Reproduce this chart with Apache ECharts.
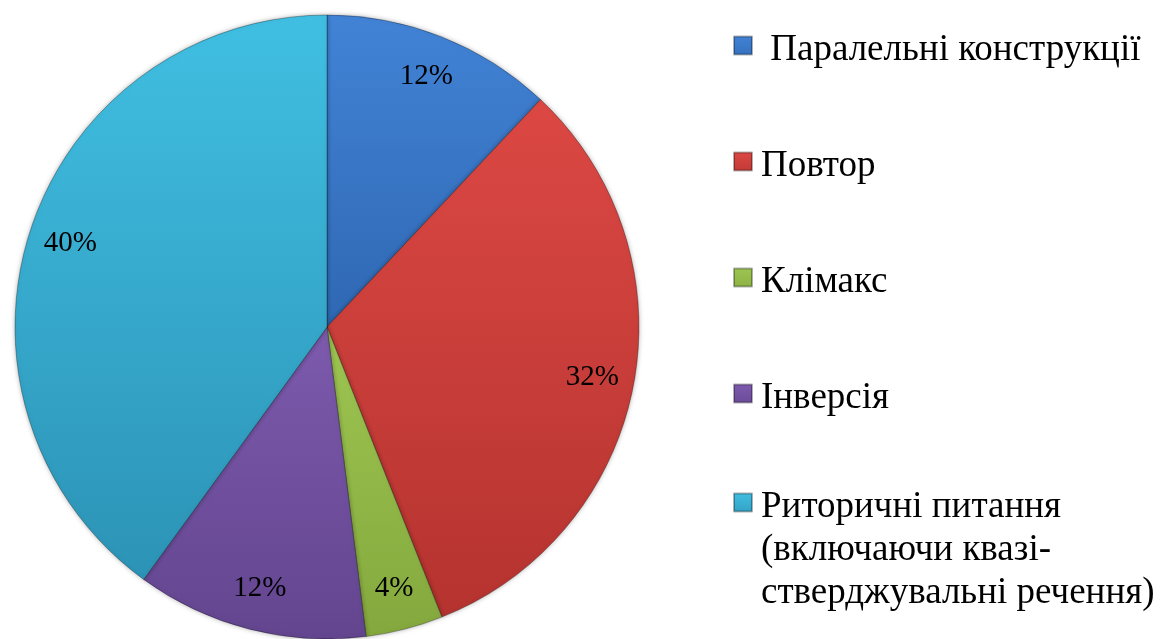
<!DOCTYPE html>
<html lang="uk">

<head>
    <meta charset="UTF-8">
    <title>Pie</title>
    <script src="https://cdn.jsdelivr.net/npm/echarts@6/dist/echarts.min.js"></script>
    <style>
        html, body { margin: 0; padding: 0; background: #fff; }
    </style>
</head>

<body>
    <div id="main" style="width: 1160px;height:639px;"></div>
    <script type="text/javascript">
        // дані діаграми
        var categories = [' Паралельні конструкції', 'Повтор', 'Клімакс', 'Інверсія',
            'Риторичні питання\n(включаючи квазі-\nстверджувальні речення)'];
        var values = [12, 32, 4, 12, 40];
        var topColors = ['#4283d6', '#dc4844', '#9ec652', '#7d5aad', '#40bfe2'];
        var bottomColors = ['#2f68b3', '#b5332f', '#84a83d', '#63458f', '#2c93b6'];

        var serif = '"Liberation Serif", "Times New Roman", serif';
        // квадратик зверху, порожнє місце знизу - щоб текст був трохи нижче значка
        var legendIcon = 'path://M0,0h18v18h-18z M0,28h0';

        function grad(i) {
            return {
                type: 'linear', x: 0, y: 0, x2: 0, y2: 1,
                colorStops: [{ offset: 0, color: topColors[i] }, { offset: 1, color: bottomColors[i] }]
            };
        }

        var pieData = categories.map(function (name, i) {
            return { name: name, value: values[i], itemStyle: { color: grad(i) } };
        });
        var labelData = categories.map(function (name, i) {
            return { name: name, value: values[i] };
        });

        var myChart = echarts.init(document.getElementById('main'));
        myChart.setOption({
            animation: false,
            legend: [{
                orient: 'vertical',
                left: 728,
                top: 27,
                itemWidth: 18,
                itemHeight: 28,
                itemGap: 79,
                icon: legendIcon,
                selectedMode: false,
                data: categories.slice(0, 4),
                textStyle: { fontFamily: serif, fontSize: 37, color: '#000', lineHeight: 36, padding: [0, 0, 0, 4] }
            }, {
                // останній пункт: перший рядок на рівні значка
                orient: 'vertical',
                left: 728,
                top: 395,
                itemWidth: 18,
                itemHeight: 28,
                icon: legendIcon,
                selectedMode: false,
                data: categories.slice(4),
                formatter: function (name) { return '\n\n' + name; },
                textStyle: { fontFamily: serif, fontSize: 37, color: '#000', lineHeight: 43, padding: [0, 0, 0, 4] }
            }],
            series: [{
                type: 'pie',
                center: [327, 327],
                radius: 312,
                startAngle: 90,
                silent: true,
                label: { show: false },
                labelLine: { show: false },
                itemStyle: {
                    borderColor: 'rgba(0,0,0,0.3)',
                    borderWidth: 1,
                    shadowBlur: 5,
                    shadowColor: 'rgba(0,0,0,0.3)'
                },
                data: pieData
            }, {
                // підписи відсотків
                type: 'pie',
                center: [327, 327],
                radius: [222, 312],
                startAngle: 90,
                silent: true,
                itemStyle: { color: 'transparent' },
                label: {
                    position: 'inside',
                    formatter: function (p) { return p.value + '%'; },
                    fontFamily: serif,
                    fontSize: 29,
                    color: '#000'
                },
                labelLine: { show: false },
                data: labelData
            }]
        });
    </script>
</body>

</html>
